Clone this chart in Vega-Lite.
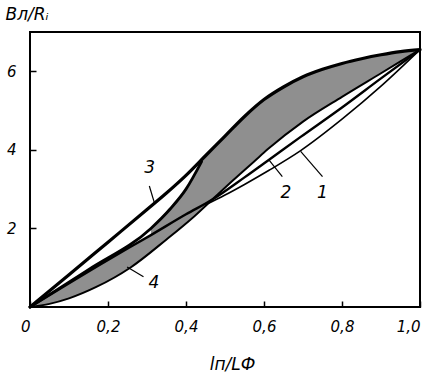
{
  "$schema": "https://vega.github.io/schema/vega-lite/v6.json",
  "width": 390,
  "height": 275,
  "autosize": {"type": "none"},
  "padding": {"left": 30, "top": 32, "right": 8, "bottom": 70},
  "background": "white",
  "config": {
    "view": {"stroke": "black", "strokeWidth": 2},
    "font": "DejaVu Sans",
    "axis": {"domain": false, "grid": false, "tickColor": "black", "tickWidth": 1.5, "labelColor": "black", "titleColor": "black", "labelFontSize": 15, "labelFontStyle": "italic", "titleFontSize": 17, "titleFontStyle": "italic", "titleFontWeight": "normal"}
  },
  "datasets": {
    "curves": [
      {"curve": "U", "x": 0, "y": 0}, {"curve": "U", "x": 0.1, "y": 0.82}, {"curve": "U", "x": 0.2, "y": 1.65}, {"curve": "U", "x": 0.3, "y": 2.48}, {"curve": "U", "x": 0.35, "y": 2.9}, {"curve": "U", "x": 0.4, "y": 3.35}, {"curve": "U", "x": 0.45, "y": 3.85}, {"curve": "U", "x": 0.5, "y": 4.35}, {"curve": "U", "x": 0.55, "y": 4.85}, {"curve": "U", "x": 0.6, "y": 5.28}, {"curve": "U", "x": 0.65, "y": 5.6}, {"curve": "U", "x": 0.7, "y": 5.86}, {"curve": "U", "x": 0.75, "y": 6.05}, {"curve": "U", "x": 0.8, "y": 6.2}, {"curve": "U", "x": 0.85, "y": 6.32}, {"curve": "U", "x": 0.9, "y": 6.42}, {"curve": "U", "x": 0.95, "y": 6.5}, {"curve": "U", "x": 1, "y": 6.55},
      {"curve": "T", "x": 0, "y": 0}, {"curve": "T", "x": 0.15, "y": 0.95}, {"curve": "T", "x": 0.31, "y": 2.0}, {"curve": "T", "x": 0.36, "y": 2.5}, {"curve": "T", "x": 0.4, "y": 3.0}, {"curve": "T", "x": 0.44, "y": 3.7},
      {"curve": "2", "x": 0, "y": 0}, {"curve": "2", "x": 0.2, "y": 1.2}, {"curve": "2", "x": 0.31, "y": 1.83}, {"curve": "2", "x": 0.4, "y": 2.36}, {"curve": "2", "x": 0.47, "y": 2.75}, {"curve": "2", "x": 0.55, "y": 3.3}, {"curve": "2", "x": 0.613, "y": 3.75}, {"curve": "2", "x": 0.694, "y": 4.33}, {"curve": "2", "x": 0.8, "y": 5.08}, {"curve": "2", "x": 0.9, "y": 5.82}, {"curve": "2", "x": 1, "y": 6.55},
      {"curve": "S", "x": 0, "y": 0}, {"curve": "S", "x": 0.05, "y": 0.08}, {"curve": "S", "x": 0.1, "y": 0.22}, {"curve": "S", "x": 0.17, "y": 0.51}, {"curve": "S", "x": 0.257, "y": 1.0}, {"curve": "S", "x": 0.35, "y": 1.72}, {"curve": "S", "x": 0.42, "y": 2.3}, {"curve": "S", "x": 0.47, "y": 2.76}, {"curve": "S", "x": 0.52, "y": 3.22}, {"curve": "S", "x": 0.574, "y": 3.7}, {"curve": "S", "x": 0.61, "y": 4.02}, {"curve": "S", "x": 0.7, "y": 4.72}, {"curve": "S", "x": 0.8, "y": 5.35}, {"curve": "S", "x": 0.9, "y": 5.95}, {"curve": "S", "x": 1, "y": 6.55},
      {"curve": "1", "x": 0.45, "y": 2.6}, {"curve": "1", "x": 0.5, "y": 2.85}, {"curve": "1", "x": 0.55, "y": 3.12}, {"curve": "1", "x": 0.613, "y": 3.48}, {"curve": "1", "x": 0.694, "y": 3.98}, {"curve": "1", "x": 0.8, "y": 4.78}, {"curve": "1", "x": 0.9, "y": 5.62}, {"curve": "1", "x": 1, "y": 6.55}
    ],
    "zones": [
      {"zone": "3", "x": 0.31, "lo": 1.83, "hi": 2.0}, {"zone": "3", "x": 0.34, "lo": 2.0, "hi": 2.33}, {"zone": "3", "x": 0.37, "lo": 2.18, "hi": 2.67}, {"zone": "3", "x": 0.4, "lo": 2.36, "hi": 3.0}, {"zone": "3", "x": 0.44, "lo": 2.58, "hi": 3.7}, {"zone": "3", "x": 0.47, "lo": 2.76, "hi": 4.05}, {"zone": "3", "x": 0.5, "lo": 3.05, "hi": 4.35}, {"zone": "3", "x": 0.55, "lo": 3.5, "hi": 4.85}, {"zone": "3", "x": 0.6, "lo": 3.96, "hi": 5.28}, {"zone": "3", "x": 0.65, "lo": 4.36, "hi": 5.6}, {"zone": "3", "x": 0.7, "lo": 4.72, "hi": 5.86}, {"zone": "3", "x": 0.75, "lo": 5.05, "hi": 6.05}, {"zone": "3", "x": 0.8, "lo": 5.35, "hi": 6.2}, {"zone": "3", "x": 0.85, "lo": 5.65, "hi": 6.32}, {"zone": "3", "x": 0.9, "lo": 5.95, "hi": 6.42}, {"zone": "3", "x": 0.95, "lo": 6.25, "hi": 6.5}, {"zone": "3", "x": 1, "lo": 6.55, "hi": 6.55},
      {"zone": "4", "x": 0, "lo": 0, "hi": 0}, {"zone": "4", "x": 0.05, "lo": 0.08, "hi": 0.3}, {"zone": "4", "x": 0.1, "lo": 0.22, "hi": 0.6}, {"zone": "4", "x": 0.15, "lo": 0.42, "hi": 0.9}, {"zone": "4", "x": 0.2, "lo": 0.66, "hi": 1.2}, {"zone": "4", "x": 0.25, "lo": 0.96, "hi": 1.49}, {"zone": "4", "x": 0.3, "lo": 1.33, "hi": 1.77}, {"zone": "4", "x": 0.35, "lo": 1.72, "hi": 2.07}, {"zone": "4", "x": 0.4, "lo": 2.15, "hi": 2.36}, {"zone": "4", "x": 0.45, "lo": 2.6, "hi": 2.63}
    ],
    "labels": [
      {"label": "3", "x": 0.307, "y": 3.55},
      {"label": "2", "x": 0.656, "y": 2.9},
      {"label": "1", "x": 0.75, "y": 2.9},
      {"label": "4", "x": 0.318, "y": 0.6}
    ],
    "leaders": [
      {"label": "3", "x": 0.306, "y": 3.08, "x2": 0.319, "y2": 2.65},
      {"label": "2", "x": 0.647, "y": 3.32, "x2": 0.612, "y2": 3.75},
      {"label": "1", "x": 0.75, "y": 3.32, "x2": 0.694, "y2": 3.96},
      {"label": "4", "x": 0.291, "y": 0.77, "x2": 0.249, "y2": 1.02}
    ]
  },
  "encoding": {
    "x": {"field": "x", "type": "quantitative", "scale": {"domain": [0, 1], "nice": false},
      "axis": {"values": [0, 0.2, 0.4, 0.6, 0.8, 1], "labelExpr": "datum.value == 0 ? '0' : replace(format(datum.value, '.1f'), '.', ',')", "tickSize": -6, "labelPadding": 18, "labelAlign": {"condition": {"test": "datum.value == 0 || datum.value == 1", "value": "right"}, "value": "center"}, "labelDx": {"condition": {"test": "datum.value == 0", "value": -6}, "value": -3}, "title": "lп/LФ", "titleY": 62, "titleX": 202, "titleBaseline": "alphabetic"}},
    "y": {"field": "y", "type": "quantitative", "scale": {"domain": [0, 7], "nice": false},
      "axis": {"values": [2, 4, 6], "tickSize": -6, "labelPadding": 20, "title": "Bл/Rᵢ", "titleAngle": 0, "titleAlign": "left", "titleBaseline": "alphabetic", "titleX": -25, "titleY": -13}}
  },
  "layer": [
    {
      "data": {"name": "zones"},
      "mark": {"type": "area", "interpolate": "monotone", "fill": "#8f8f8f"},
      "encoding": {
        "detail": {"field": "zone"},
        "y": {"field": "lo", "type": "quantitative", "scale": {"domain": [0, 7], "nice": false},
          "axis": {"values": [2, 4, 6], "tickSize": -6, "labelPadding": 20, "title": "Bл/Rᵢ", "titleAngle": 0, "titleAlign": "left", "titleBaseline": "alphabetic", "titleX": -25, "titleY": -13}},
        "y2": {"field": "hi"}
      }
    },
    {
      "data": {"name": "curves"},
      "mark": {"type": "line", "interpolate": "monotone", "color": "black", "strokeCap": "round", "strokeJoin": "round"},
      "encoding": {
        "detail": {"field": "curve"},
        "strokeWidth": {"field": "curve", "type": "nominal", "scale": {"domain": ["U", "T", "2", "S", "1"], "range": [3.2, 1.6, 2.8, 3, 2.4]}, "legend": null}
      }
    },
    {
      "data": {"name": "leaders"},
      "mark": {"type": "rule", "color": "black", "strokeWidth": 1.2},
      "encoding": {
        "x2": {"field": "x2"},
        "y2": {"field": "y2"}
      }
    },
    {
      "data": {"name": "labels"},
      "mark": {"type": "text", "fontSize": 17, "fontStyle": "italic", "color": "black", "baseline": "middle", "align": "center"},
      "encoding": {
        "text": {"field": "label"}
      }
    }
  ]
}
